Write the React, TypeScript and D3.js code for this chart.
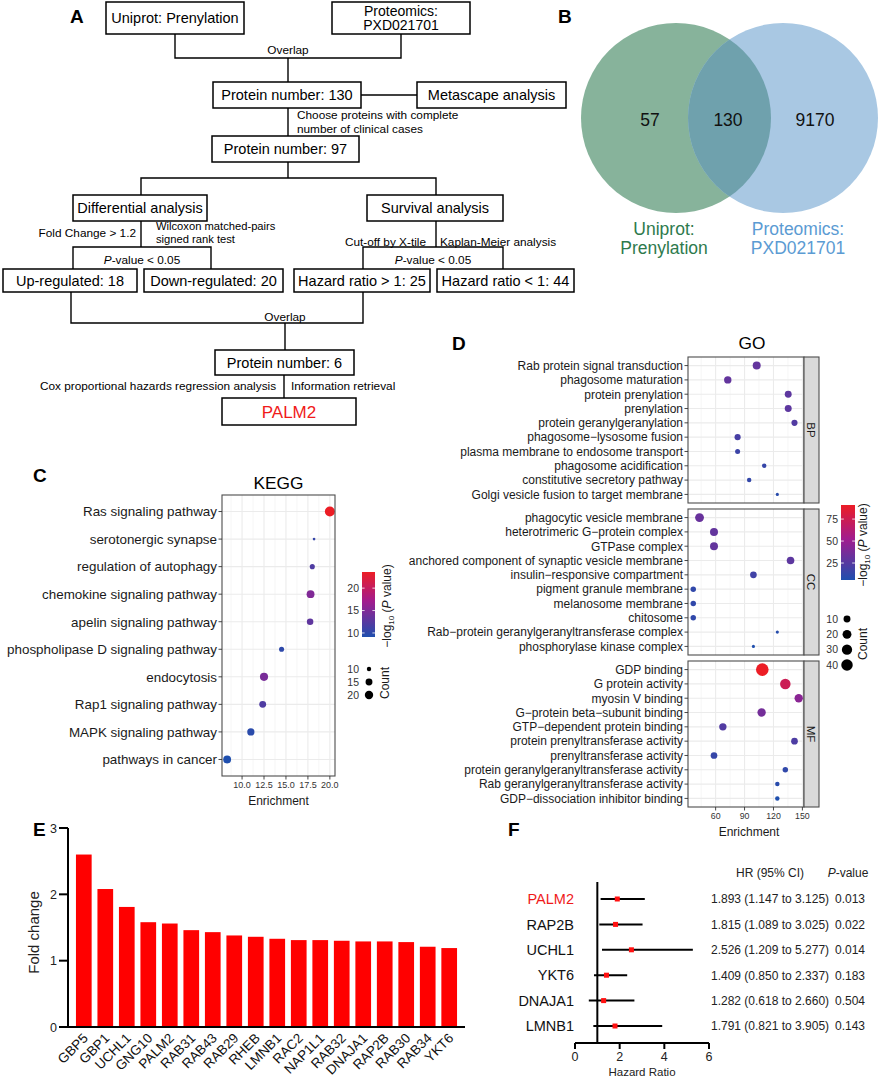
import React, { useEffect } from 'react'
import * as d3 from 'd3'

const FONT = '"Liberation Sans", Arial, Helvetica, sans-serif'

// ---------- B: Venn ----------
const vennSets = [['Uniprot:', 'Prenylation'], ['Proteomics:', 'PXD021701']]
const vennCounts = [57, 130, 9170]

// ---------- C: KEGG ----------
const keggTerms = [
  'Ras signaling pathway', 'serotonergic synapse', 'regulation of autophagy',
  'chemokine signaling pathway', 'apelin signaling pathway', 'phospholipase D signaling pathway',
  'endocytosis', 'Rap1 signaling pathway', 'MAPK signaling pathway', 'pathways in cancer',
]
const keggEnrichment = [20.0, 18.2, 18.0, 17.8, 17.75, 14.5, 12.5, 12.35, 11.0, 8.3]
const keggCount = [27, 9, 11, 18, 14, 11, 19, 15, 16, 18]
const keggLogP = [23.6, 10.5, 12, 15, 13, 10, 14.5, 12, 9.8, 9.1]
const keggXTicks = [10, 12.5, 15, 17.5, 20]
const keggColorTicks = [10, 15, 20]
const keggSizeTicks = [10, 15, 20]

// ---------- D: GO ----------
const goCategories = ['BP', 'CC', 'MF']
const goBP = [
  'Rab protein signal transduction', 'phagosome maturation', 'protein prenylation', 'prenylation',
  'protein geranylgeranylation', 'phagosome−lysosome fusion', 'plasma membrane to endosome transport',
  'phagosome acidification', 'constitutive secretory pathway', 'Golgi vesicle fusion to target membrane',
]
const goCC = [
  'phagocytic vesicle membrane', 'heterotrimeric G−protein complex', 'GTPase complex',
  'anchored component of synaptic vesicle membrane', 'insulin−responsive compartment',
  'pigment granule membrane', 'melanosome membrane', 'chitosome',
  'Rab−protein geranylgeranyltransferase complex', 'phosphorylase kinase complex',
]
const goMF = [
  'GDP binding', 'G protein activity', 'myosin V binding', 'G−protein beta−subunit binding',
  'GTP−dependent protein binding', 'protein prenyltransferase activity', 'prenyltransferase activity',
  'protein geranylgeranyltransferase activity', 'Rab geranylgeranyltransferase activity',
  'GDP−dissociation inhibitor binding',
]
const goBPEnrichment = [102.6, 72.6, 135.3, 135.3, 141.8, 82.8, 82.8, 110.4, 94.8, 124]
const goCCEnrichment = [43.3, 58.3, 58.3, 137.7, 99.2, 36.8, 36.8, 36.8, 124, 99.2]
const goMFEnrichment = [108.4, 132.3, 146.2, 107.7, 67.5, 141.8, 58.3, 132.3, 124, 124]
const goBPCount = [15, 12, 10, 10, 7, 7, 4, 3, 3, 2]
const goCCCount = [20, 15, 15, 13, 9, 5, 5, 5, 2, 2]
const goMFCount = [51, 32, 17, 17, 12, 9, 9, 5, 3, 3]
const goBPLogP = [30, 30, 28, 28, 24, 20, 16, 14, 13, 9]
const goCCLogP = [32, 30, 30, 28, 18, 12, 12, 12, 8, 6]
const goMFLogP = [91, 74, 44, 36, 24, 22, 14, 12, 9, 5.7]
const goXTicks = [60, 90, 120, 150]
const goColorTicks = [25, 50, 75]
const goSizeTicks = [10, 20, 30, 40]

// ---------- E: fold change ----------
const barGenes = ['GBP5', 'GBP1', 'UCHL1', 'GNG10', 'PALM2', 'RAB31', 'RAB43', 'RAB29', 'RHEB',
  'LMNB1', 'RAC2', 'NAP1L1', 'RAB32', 'DNAJA1', 'RAP2B', 'RAB30', 'RAB34', 'YKT6']
const barFold = [2.60, 2.08, 1.81, 1.58, 1.56, 1.46, 1.43, 1.38, 1.36, 1.33, 1.31, 1.31, 1.30, 1.29, 1.29, 1.28, 1.21, 1.19]
const barYTicks = [0, 1, 2, 3]

// ---------- F: forest ----------
const forestGenes = ['PALM2', 'RAP2B', 'UCHL1', 'YKT6', 'DNAJA1', 'LMNB1']
const forestHR = [1.893, 1.815, 2.526, 1.409, 1.282, 1.791]
const forestLow = [1.147, 1.089, 1.209, 0.850, 0.618, 0.821]
const forestHigh = [3.125, 3.025, 5.277, 2.337, 2.660, 3.905]
const forestP = ['0.013', '0.022', '0.014', '0.183', '0.504', '0.143']
const forestXTicks = [0, 2, 4, 6]

// ---------- helpers ----------
function makeColor(domain: number[]) {
  const [a, b] = domain
  return d3.scaleLinear<string>()
    .domain([a, a + (b - a) * 0.55, b])
    .range(['#1F4FAE', '#A21C8E', '#EC1D25'])
    .interpolate(d3.interpolateRgb)
}
function makeSize(domain: number[], k: number) {
  const t = d3.scaleLinear().domain(domain).range([0, 1]).clamp(true)
  return (c: number) => k * (1 + 5 * Math.sqrt(t(c))) + 0.6
}
function extent(a: number[]) {
  return d3.extent(a) as [number, number]
}

function PanelLetter({ x, y, t }: { x: number; y: number; t: string }) {
  return <text x={x} y={y} fontSize={19} fontWeight="bold" fill="#000">{t}</text>
}

// ---------- A: flowchart ----------
type Box = { x: number; y: number; w: number; h: number; lines: string[]; color?: string; fs?: number }
const BOXES: Box[] = [
  { x: 106, y: 2, w: 138, h: 32, lines: ['Uniprot: Prenylation'] },
  { x: 332, y: 2, w: 138, h: 32, lines: ['Proteomics:', 'PXD021701'], fs: 14 },
  { x: 213, y: 82, w: 148, h: 26, lines: ['Protein number: 130'] },
  { x: 417, y: 82, w: 149, h: 26, lines: ['Metascape analysis'] },
  { x: 212, y: 136, w: 147, h: 26, lines: ['Protein number: 97'] },
  { x: 73, y: 195, w: 134, h: 26, lines: ['Differential analysis'] },
  { x: 367, y: 195, w: 136, h: 26, lines: ['Survival analysis'] },
  { x: 3, y: 269, w: 134, h: 23, lines: ['Up-regulated: 18'] },
  { x: 144, y: 269, w: 139, h: 23, lines: ['Down-regulated: 20'] },
  { x: 294, y: 269, w: 136, h: 23, lines: ['Hazard ratio > 1: 25'] },
  { x: 437, y: 269, w: 137, h: 23, lines: ['Hazard ratio < 1: 44'] },
  { x: 215, y: 350, w: 139, h: 25, lines: ['Protein number: 6'] },
  { x: 222, y: 398, w: 134, h: 27, lines: ['PALM2'], color: '#F01A1A', fs: 17 },
]
const LINKS: number[][] = [
  [175, 34, 175, 58, 401, 58, 401, 34],
  [288, 58, 288, 82],
  [361, 95, 417, 95],
  [288, 108, 288, 136],
  [288, 162, 288, 178],
  [141, 195, 141, 178, 436, 178, 436, 195],
  [141, 221, 141, 247],
  [73, 269, 73, 247, 211, 247, 211, 269],
  [436, 221, 436, 247],
  [363, 269, 363, 247, 503, 247, 503, 269],
  [71, 292, 71, 323, 363, 323, 363, 292],
  [285, 323, 285, 350],
  [284, 375, 284, 398],
]

function PanelA() {
  const small = 11.8
  return (
    <g>
      <PanelLetter x={70} y={23} t="A" />
      {LINKS.map((p, i) => (
        <polyline key={i} points={p.join(' ')} fill="none" stroke="#000" strokeWidth={1.4} />
      ))}
      {BOXES.map((b, i) => (
        <g key={i}>
          <rect x={b.x} y={b.y} width={b.w} height={b.h} fill="#fff" stroke="#000" strokeWidth={1.5} />
          {b.lines.map((l, j) => (
            <text key={j} x={b.x + b.w / 2} y={b.y + b.h / 2 + (j - (b.lines.length - 1) / 2) * 14}
              dy="0.36em" textAnchor="middle" fontSize={b.fs ?? 14.5} fill={b.color ?? '#000'}>{l}</text>
          ))}
        </g>
      ))}
      <g fontSize={small} fill="#000">
        <text x={288} y={54} textAnchor="middle">Overlap</text>
        <text x={297} y={119}>Choose proteins with complete</text>
        <text x={297} y={133}>number of clinical cases</text>
        <text x={136} y={237} textAnchor="end">Fold Change &gt; 1.2</text>
        <text x={156} y={230} fontSize={11.2}>Wilcoxon matched-pairs</text>
        <text x={156} y={243} fontSize={11.2}>signed rank test</text>
        <text x={142} y={264} textAnchor="middle"><tspan fontStyle="italic">P</tspan>-value &lt; 0.05</text>
        <text x={426} y={246} textAnchor="end">Cut-off by X-tile</text>
        <text x={440} y={246}>Kaplan-Meier analysis</text>
        <text x={433} y={264} textAnchor="middle"><tspan fontStyle="italic">P</tspan>-value &lt; 0.05</text>
        <text x={285} y={321} textAnchor="middle">Overlap</text>
        <text x={40} y={390}>Cox proportional hazards regression analysis</text>
        <text x={291} y={390}>Information retrieval</text>
      </g>
    </g>
  )
}

// ---------- B ----------
function PanelB() {
  const r = 95
  const cy = 118
  const cx = [676, 783]
  return (
    <g>
      <PanelLetter x={558} y={23} t="B" />
      <defs>
        <clipPath id="vennL"><circle cx={cx[0]} cy={cy} r={r} /></clipPath>
      </defs>
      <circle cx={cx[0]} cy={cy} r={r} fill="#87B39B" />
      <circle cx={cx[1]} cy={cy} r={r} fill="#A9C8E3" />
      <circle cx={cx[1]} cy={cy} r={r} fill="#6FA1AD" clipPath="url(#vennL)" />
      {vennCounts.map((v, i) => (
        <text key={i} x={[650, 728, 815][i]} y={cy + 2} dy="0.36em" textAnchor="middle" fontSize={17.5} fill="#111">{v}</text>
      ))}
      {vennSets.map((s, i) => (
        <text key={i} textAnchor="middle" fontSize={17.5} fill={i === 0 ? '#2E7A4D' : '#5B9BD3'}>
          {s.map((l, j) => <tspan key={j} x={[664, 798][i]} y={235 + j * 19}>{l}</tspan>)}
        </text>
      ))}
    </g>
  )
}

// ---------- dot plot pieces ----------
function minorTicks(major: number[], dom: number[]) {
  const step = major[1] - major[0]
  const out: number[] = []
  for (let v = major[0] - step / 2; v <= major[major.length - 1] + step / 2; v += step) {
    if (v >= dom[0] && v <= dom[1]) out.push(v)
  }
  return out
}

function DotFacet(p: {
  terms: string[]; enr: number[]; cnt: number[]; lp: number[];
  x: d3.ScaleLinear<number, number>; top: number; bottom: number; left: number; right: number;
  ticks: number[]; color: (v: number) => string; size: (c: number) => number; fs: number
}) {
  const y = d3.scalePoint<string>().domain(p.terms).range([p.top, p.bottom]).padding(0.6)
  const dom = p.x.domain()
  return (
    <g>
      <rect x={p.left} y={p.top} width={p.right - p.left} height={p.bottom - p.top} fill="#fff" />
      {minorTicks(p.ticks, dom).map(v => (
        <line key={'m' + v} x1={p.x(v)} x2={p.x(v)} y1={p.top} y2={p.bottom} stroke="#F0F0F0" strokeWidth={0.6} />
      ))}
      {p.ticks.map(v => (
        <line key={'M' + v} x1={p.x(v)} x2={p.x(v)} y1={p.top} y2={p.bottom} stroke="#EBEBEB" strokeWidth={1.1} />
      ))}
      {p.terms.map(t => (
        <line key={'h' + t} x1={p.left} x2={p.right} y1={y(t)} y2={y(t)} stroke="#EBEBEB" strokeWidth={1.1} />
      ))}
      {p.terms.map((t, i) => (
        <circle key={'c' + t} cx={p.x(p.enr[i])} cy={y(t)} r={p.size(p.cnt[i])} fill={p.color(p.lp[i])} />
      ))}
      <rect x={p.left} y={p.top} width={p.right - p.left} height={p.bottom - p.top} fill="none" stroke="#4D4D4D" strokeWidth={1.1} />
      {p.terms.map(t => (
        <g key={'l' + t}>
          <line x1={p.left - 3.5} x2={p.left} y1={y(t)} y2={y(t)} stroke="#333" strokeWidth={0.9} />
          <text x={p.left - 5} y={y(t)} dy="0.36em" textAnchor="end" fontSize={p.fs} fill="#1A1A1A">{t}</text>
        </g>
      ))}
    </g>
  )
}

function ColorBar(p: { id: string; x: number; top: number; bottom: number; w: number; domain: number[]; ticks: number[]; color: (v: number) => string }) {
  const s = d3.scaleLinear().domain(p.domain).range([p.bottom, p.top])
  const stops = d3.range(0, 1.0001, 0.05)
  return (
    <g>
      <defs>
        <linearGradient id={p.id} x1="0" y1="1" x2="0" y2="0">
          {stops.map(t => (
            <stop key={t} offset={t} stopColor={p.color(p.domain[0] + t * (p.domain[1] - p.domain[0]))} />
          ))}
        </linearGradient>
      </defs>
      <rect x={p.x} y={p.top} width={p.w} height={p.bottom - p.top} fill={`url(#${p.id})`} />
      {p.ticks.map(v => (
        <g key={v}>
          <line x1={p.x} x2={p.x + p.w / 5} y1={s(v)} y2={s(v)} stroke="#fff" strokeWidth={0.8} />
          <line x1={p.x + p.w * 0.8} x2={p.x + p.w} y1={s(v)} y2={s(v)} stroke="#fff" strokeWidth={0.8} />
          <text x={p.x - 3} y={s(v)} dy="0.36em" textAnchor="end" fontSize={10.5} fill="#333">{v}</text>
        </g>
      ))}
    </g>
  )
}

function LogTitle({ x, y }: { x: number; y: number }) {
  return (
    <text transform={`translate(${x},${y}) rotate(-90)`} textAnchor="middle" fontSize={12} fill="#1A1A1A">
      −log<tspan fontSize={8} dy={3}>10</tspan><tspan dy={-3}> (</tspan><tspan fontStyle="italic">P</tspan> value)
    </text>
  )
}

// ---------- C ----------
function PanelC() {
  const left = 222, right = 335, top = 495, bottom = 776
  const [lo, hi] = extent(keggEnrichment)
  const pad = (hi - lo) * 0.05
  const x = d3.scaleLinear().domain([lo - pad, hi + pad]).range([left, right])
  const cDom = extent(keggLogP)
  const color = makeColor(cDom)
  const size = makeSize(extent(keggCount), 0.733)
  const sizeY = d3.scalePoint<number>().domain(keggSizeTicks).range([669, 695])
  return (
    <g>
      <PanelLetter x={33} y={482} t="C" />
      <text x={(left + right) / 2} y={489} textAnchor="middle" fontSize={17.3} fill="#000">KEGG</text>
      <DotFacet terms={keggTerms} enr={keggEnrichment} cnt={keggCount} lp={keggLogP} x={x}
        top={top} bottom={bottom} left={left} right={right} ticks={keggXTicks} color={color} size={size} fs={13.4} />
      {keggXTicks.map(v => (
        <g key={v}>
          <line x1={x(v)} x2={x(v)} y1={bottom} y2={bottom + 3.5} stroke="#333" strokeWidth={0.9} />
          <text x={x(v)} y={bottom + 12} textAnchor="middle" fontSize={9} fill="#333">{v.toFixed(1)}</text>
        </g>
      ))}
      <text x={(left + right) / 2} y={805} textAnchor="middle" fontSize={12} fill="#1A1A1A">Enrichment</text>
      <ColorBar id="gk" x={362} top={572} bottom={637} w={13} domain={cDom} ticks={keggColorTicks} color={color} />
      <LogTitle x={391} y={606} />
      {keggSizeTicks.map(v => (
        <g key={v}>
          <circle cx={369} cy={sizeY(v)!} r={size(v)} fill="#000" />
          <text x={359} y={sizeY(v)!} dy="0.36em" textAnchor="end" fontSize={10.5} fill="#333">{v}</text>
        </g>
      ))}
      <text transform="translate(389,683) rotate(-90)" textAnchor="middle" fontSize={12} fill="#1A1A1A">Count</text>
    </g>
  )
}

// ---------- D ----------
function PanelD() {
  const left = 688, right = 804
  const facets = [
    { terms: goBP, enr: goBPEnrichment, cnt: goBPCount, lp: goBPLogP, top: 357, bottom: 503 },
    { terms: goCC, enr: goCCEnrichment, cnt: goCCCount, lp: goCCLogP, top: 509, bottom: 655 },
    { terms: goMF, enr: goMFEnrichment, cnt: goMFCount, lp: goMFLogP, top: 661, bottom: 807 },
  ]
  const allEnr = [...goBPEnrichment, ...goCCEnrichment, ...goMFEnrichment]
  const [lo, hi] = extent(allEnr)
  const pad = (hi - lo) * 0.05
  const x = d3.scaleLinear().domain([lo - pad, hi + pad]).range([left, right])
  const cDom = extent([...goBPLogP, ...goCCLogP, ...goMFLogP])
  const color = makeColor(cDom)
  const size = makeSize(extent([...goBPCount, ...goCCCount, ...goMFCount]), 0.95)
  const sizeY = d3.scalePoint<number>().domain(goSizeTicks).range([619, 665])
  const bottom = 807
  return (
    <g>
      <PanelLetter x={452} y={350} t="D" />
      <text x={(left + right) / 2 + 6} y={349} textAnchor="middle" fontSize={17.3} fill="#000">GO</text>
      {facets.map((f, i) => (
        <g key={i}>
          <DotFacet {...f} x={x} left={left} right={right} ticks={goXTicks} color={color} size={size} fs={12} />
          <rect x={right} y={f.top} width={15} height={f.bottom - f.top} fill="#D9D9D9" stroke="#4D4D4D" strokeWidth={1.1} />
          <text transform={`translate(${right + 7.5},${(f.top + f.bottom) / 2}) rotate(90)`} textAnchor="middle"
            dy="0.36em" fontSize={11.5} fill="#1A1A1A">{goCategories[i]}</text>
        </g>
      ))}
      {goXTicks.map(v => (
        <g key={v}>
          <line x1={x(v)} x2={x(v)} y1={bottom} y2={bottom + 3.5} stroke="#333" strokeWidth={0.9} />
          <text x={x(v)} y={bottom + 12} textAnchor="middle" fontSize={8.8} fill="#333">{v}</text>
        </g>
      ))}
      <text x={(left + right) / 2 + 3} y={836} textAnchor="middle" fontSize={12} fill="#1A1A1A">Enrichment</text>
      <ColorBar id="gg" x={841} top={505} bottom={580} w={14} domain={cDom} ticks={goColorTicks} color={color} />
      <LogTitle x={867} y={545} />
      {goSizeTicks.map(v => (
        <g key={v}>
          <circle cx={847} cy={sizeY(v)!} r={size(v)} fill="#000" />
          <text x={838} y={sizeY(v)!} dy="0.36em" textAnchor="end" fontSize={10.5} fill="#333">{v}</text>
        </g>
      ))}
      <text transform="translate(867,644) rotate(-90)" textAnchor="middle" fontSize={12} fill="#1A1A1A">Count</text>
    </g>
  )
}

// ---------- E ----------
function PanelE() {
  const x0 = 68, x1 = 465, yTop = 828, yBase = 1027
  const x = d3.scaleBand<string>().domain(barGenes).range([x0, x1]).paddingInner(0.27).paddingOuter(0.37)
  const y = d3.scaleLinear().domain([0, 3]).range([yBase, yTop])
  return (
    <g>
      <PanelLetter x={33} y={836} t="E" />
      {barGenes.map((g, i) => (
        <rect key={g} x={x(g)} y={y(barFold[i])} width={x.bandwidth()} height={yBase - y(barFold[i])} fill="#FF0000" />
      ))}
      <line x1={x0} x2={x0} y1={yTop} y2={yBase} stroke="#000" strokeWidth={2} />
      <line x1={x0 - 1} x2={x1} y1={yBase} y2={yBase} stroke="#000" strokeWidth={2} />
      {barYTicks.map(v => (
        <g key={v}>
          <line x1={x0 - 9} x2={x0} y1={y(v)} y2={y(v)} stroke="#000" strokeWidth={2} />
          <text x={x0 - 11} y={y(v)} dy="0.36em" textAnchor="end" fontSize={12.5} fill="#222">{v}</text>
        </g>
      ))}
      <text transform={`translate(39,${(yTop + yBase) / 2 + 5}) rotate(-90)`} textAnchor="middle" fontSize={15} fill="#222">Fold change</text>
      {barGenes.map(g => (
        <text key={g} transform={`translate(${x(g)! + x.bandwidth() / 2 + 5},${yBase + 12}) rotate(-45)`}
          textAnchor="end" fontSize={13.5} fill="#111">{g}</text>
      ))}
    </g>
  )
}

// ---------- F ----------
function PanelF() {
  const x = d3.scaleLinear().domain([0, 6]).range([575, 709])
  const y = d3.scalePoint<string>().domain(forestGenes).range([899, 1026])
  const axisY = 1043
  return (
    <g>
      <PanelLetter x={508} y={836} t="F" />
      <line x1={x(1)} x2={x(1)} y1={882} y2={axisY} stroke="#000" strokeWidth={2} />
      <line x1={x(0)} x2={x(6)} y1={axisY} y2={axisY} stroke="#000" strokeWidth={2} />
      {forestXTicks.map(v => (
        <g key={v}>
          <line x1={x(v)} x2={x(v)} y1={axisY} y2={axisY + 6} stroke="#000" strokeWidth={2} />
          <text x={x(v)} y={axisY + 18} textAnchor="middle" fontSize={12.5} fill="#222">{v}</text>
        </g>
      ))}
      <text x={642} y={1076} textAnchor="middle" fontSize={11.5} fill="#222">Hazard Ratio</text>
      {forestGenes.map((g, i) => (
        <g key={g}>
          <line x1={x(forestLow[i])} x2={x(forestHigh[i])} y1={y(g)} y2={y(g)} stroke="#000" strokeWidth={2} />
          <rect x={x(forestHR[i]) - 2.5} y={y(g)! - 2.5} width={5} height={5} fill="#FF1010" />
          <text x={574} y={y(g)} dy="0.36em" textAnchor="end" fontSize={14.5} fill={i === 0 ? '#F01A1A' : '#111'}>{g}</text>
          <text x={711} y={y(g)} dy="0.36em" fontSize={12} fill="#222">
            {`${forestHR[i].toFixed(3)} (${forestLow[i].toFixed(3)} to ${forestHigh[i].toFixed(3)})`}
          </text>
          <text x={835} y={y(g)} dy="0.36em" fontSize={12} fill="#222">{forestP[i]}</text>
        </g>
      ))}
      <text x={770} y={877} textAnchor="middle" fontSize={12} fill="#222">HR (95% CI)</text>
      <text x={848} y={877} textAnchor="middle" fontSize={12} fill="#222"><tspan fontStyle="italic">P</tspan>-value</text>
    </g>
  )
}

export default function App() {
  useEffect(() => { document.body.style.margin = '0' }, [])
  return (
    <svg width={878} height={1079} viewBox="0 0 878 1079"
      style={{ position: 'absolute', left: 0, top: 0, fontFamily: FONT }}>
      <rect width={878} height={1079} fill="#fff" />
      <PanelA />
      <PanelB />
      <PanelC />
      <PanelD />
      <PanelE />
      <PanelF />
    </svg>
  )
}
